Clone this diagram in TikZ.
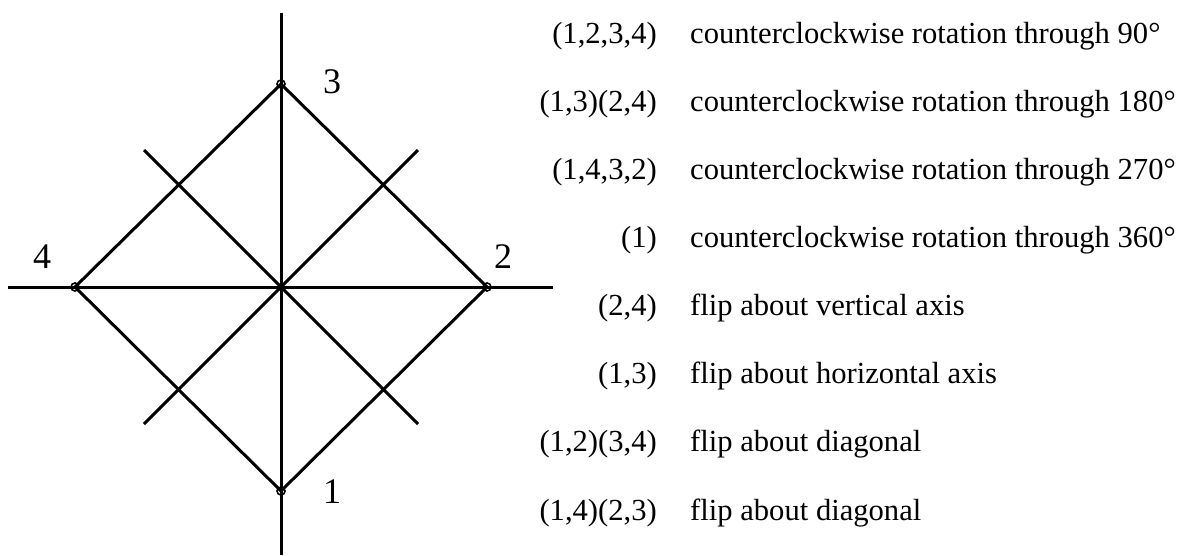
\documentclass[tikz,border=0pt]{standalone}
\usepackage{fontspec}
\setmainfont{Liberation Serif}
\begin{document}
\begin{tikzpicture}[x=1pt,y=-1pt,
  ln/.style={line width=3pt},
  vtx/.style={circle,draw,line width=1.6pt,inner sep=0pt,minimum size=8pt},
  lab/.style={font=\fontsize{36}{40}\selectfont,inner sep=0pt},
  perm/.style={font=\fontsize{30.6}{36}\selectfont,inner sep=0pt,anchor=base east},
  desc/.style={font=\fontsize{30.6}{36}\selectfont,inner sep=0pt,anchor=base west}]
\useasboundingbox (0,0) rectangle (1184,555);
% axes
\coordinate (vt) at (281,13);
\coordinate (vb) at (281,555);
\coordinate (hl) at (8,287);
\coordinate (hr) at (553,287);
% square vertices
\coordinate (v3) at (281,84);
\coordinate (v2) at (487,287);
\coordinate (v1) at (281,491);
\coordinate (v4) at (75,287);
% diagonal ends
\coordinate (d1a) at (144,150);
\coordinate (d1b) at (418,424);
\coordinate (d2a) at (418,150);
\coordinate (d2b) at (144,424);
\draw[ln] (vt) -- (vb);
\draw[ln] (hl) -- (hr);
\draw[ln] (v3) -- (v2) -- (v1) -- (v4) -- cycle;
\draw[ln] (d1a) -- (d1b);
\draw[ln] (d2a) -- (d2b);
\foreach \v in {v1,v2,v3,v4} \node[vtx] at (\v) {};
% labels
\node[lab] (l3) at (332,82) {3};
\node[lab] (l2) at (503,257) {2};
\node[lab] (l4) at (42,257) {4};
\node[lab] (l1) at (332,492) {1};
% table
\node[perm] (p1) at (657,43) {(1,2,3,4)};
\node[desc] (q1) at (690,43) {counterclockwise rotation through 90°};
\node[perm] (p2) at (657,111.1) {(1,3)(2,4)};
\node[desc] (q2) at (690,111.1) {counterclockwise rotation through 180°};
\node[perm] (p3) at (657,179.3) {(1,4,3,2)};
\node[desc] (q3) at (690,179.3) {counterclockwise rotation through 270°};
\node[perm] (p4) at (657,247.4) {(1)};
\node[desc] (q4) at (690,247.4) {counterclockwise rotation through 360°};
\node[perm] (p5) at (657,315.6) {(2,4)};
\node[desc] (q5) at (690,315.6) {flip about vertical axis};
\node[perm] (p6) at (657,383.7) {(1,3)};
\node[desc] (q6) at (690,383.7) {flip about horizontal axis};
\node[perm] (p7) at (657,451.9) {(1,2)(3,4)};
\node[desc] (q7) at (690,451.9) {flip about diagonal};
\node[perm] (p8) at (657,520) {(1,4)(2,3)};
\node[desc] (q8) at (690,520) {flip about diagonal};
\end{tikzpicture}
\end{document}
